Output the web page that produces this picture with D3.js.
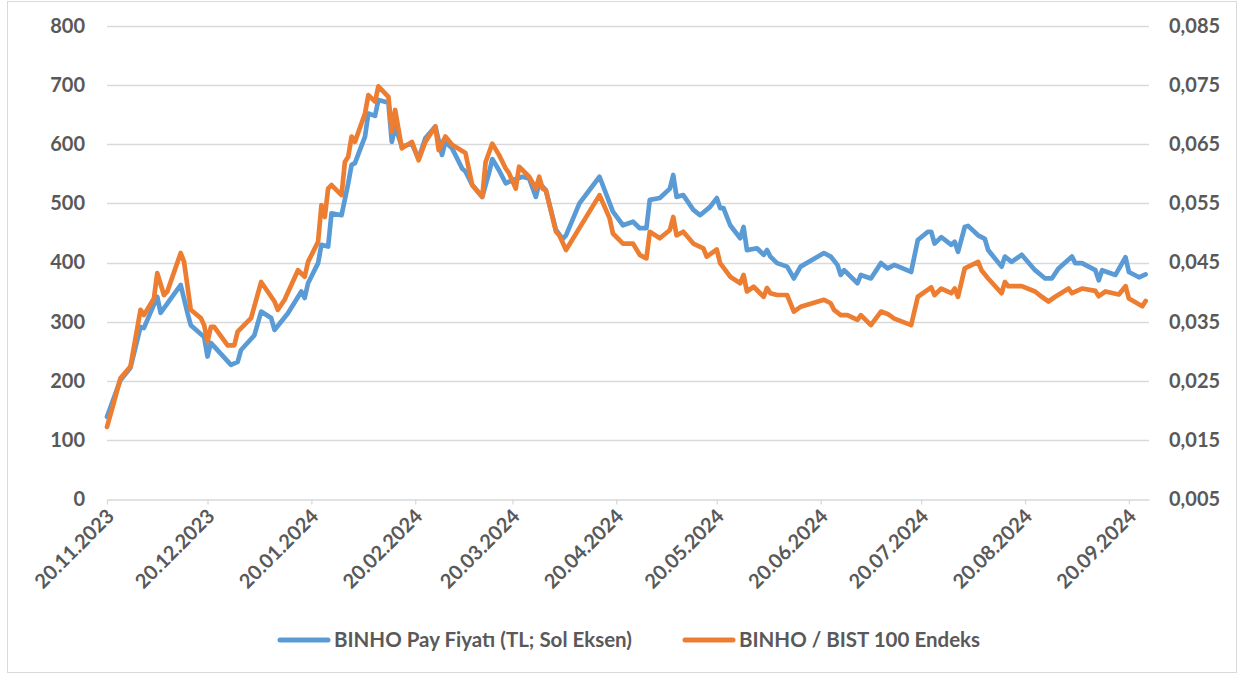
<!DOCTYPE html>
<html>
<head>
<meta charset="utf-8">
<script src="https://cdn.jsdelivr.net/npm/d3@7"></script>
<style>
  body { margin: 0; background: #fff; }
  svg { display: block; font-family: Lato, "Noto Sans", sans-serif; font-weight: 700; }
</style>
</head>
<body>
<svg id="chart" width="1240" height="675"></svg>
<script>
// ------------------------------------------------------------
// Data
// ------------------------------------------------------------
const priceSeries = [
  ["2023-11-20", 139], ["2023-11-24", 201], ["2023-11-27", 222], ["2023-11-30", 291],
  ["2023-12-01", 289], ["2023-12-05", 342], ["2023-12-06", 315], ["2023-12-12", 362],
  ["2023-12-14", 315], ["2023-12-15", 294], ["2023-12-19", 274], ["2023-12-20", 241],
  ["2023-12-21", 264], ["2023-12-27", 227], ["2023-12-29", 232], ["2023-12-30", 252],
  ["2024-01-03", 277], ["2024-01-05", 317], ["2024-01-08", 306], ["2024-01-09", 286],
  ["2024-01-13", 314], ["2024-01-17", 351], ["2024-01-18", 340], ["2024-01-19", 365],
  ["2024-01-22", 399], ["2024-01-23", 430], ["2024-01-25", 427], ["2024-01-26", 483],
  ["2024-01-29", 480], ["2024-01-31", 534], ["2024-02-01", 565], ["2024-02-02", 568],
  ["2024-02-05", 613], ["2024-02-06", 652], ["2024-02-08", 648], ["2024-02-09", 675],
  ["2024-02-11", 672], ["2024-02-12", 670], ["2024-02-13", 604], ["2024-02-14", 630],
  ["2024-02-16", 596], ["2024-02-19", 601], ["2024-02-21", 576], ["2024-02-23", 610],
  ["2024-02-26", 630], ["2024-02-28", 582], ["2024-02-29", 604], ["2024-03-02", 593],
  ["2024-03-05", 559], ["2024-03-06", 554], ["2024-03-08", 531], ["2024-03-11", 511],
  ["2024-03-13", 551], ["2024-03-14", 575], ["2024-03-16", 556], ["2024-03-18", 534],
  ["2024-03-20", 539], ["2024-03-23", 545], ["2024-03-25", 542], ["2024-03-27", 511],
  ["2024-03-28", 535], ["2024-03-30", 522], ["2024-04-02", 455], ["2024-04-04", 440],
  ["2024-04-05", 446], ["2024-04-09", 500], ["2024-04-15", 545], ["2024-04-19", 486],
  ["2024-04-22", 463], ["2024-04-25", 469], ["2024-04-27", 458], ["2024-04-29", 458],
  ["2024-04-30", 506], ["2024-05-03", 509], ["2024-05-06", 525], ["2024-05-07", 548],
  ["2024-05-08", 511], ["2024-05-10", 514], ["2024-05-13", 489], ["2024-05-15", 480],
  ["2024-05-18", 494], ["2024-05-20", 509], ["2024-05-21", 492], ["2024-05-22", 492],
  ["2024-05-24", 463], ["2024-05-27", 441], ["2024-05-28", 460], ["2024-05-29", 421],
  ["2024-06-01", 424], ["2024-06-03", 413], ["2024-06-04", 421], ["2024-06-05", 410],
  ["2024-06-07", 399], ["2024-06-10", 393], ["2024-06-12", 373], ["2024-06-14", 393],
  ["2024-06-21", 416], ["2024-06-23", 410], ["2024-06-25", 396], ["2024-06-26", 379],
  ["2024-06-27", 387], ["2024-07-01", 365], ["2024-07-02", 379], ["2024-07-05", 373],
  ["2024-07-08", 399], ["2024-07-10", 390], ["2024-07-12", 396], ["2024-07-17", 384],
  ["2024-07-19", 438], ["2024-07-22", 452], ["2024-07-23", 452], ["2024-07-24", 432],
  ["2024-07-26", 443], ["2024-07-29", 430], ["2024-07-30", 435], ["2024-07-31", 418],
  ["2024-08-02", 460], ["2024-08-03", 462], ["2024-08-06", 446], ["2024-08-07", 443],
  ["2024-08-08", 440], ["2024-08-09", 421], ["2024-08-13", 393], ["2024-08-14", 410],
  ["2024-08-16", 401], ["2024-08-19", 413], ["2024-08-23", 387], ["2024-08-26", 373],
  ["2024-08-28", 373], ["2024-08-30", 390], ["2024-09-03", 410], ["2024-09-04", 399],
  ["2024-09-06", 399], ["2024-09-10", 387], ["2024-09-11", 370], ["2024-09-12", 387],
  ["2024-09-16", 379], ["2024-09-19", 409], ["2024-09-20", 384], ["2024-09-23", 375],
  ["2024-09-25", 380]
];

const ratioSeries = [
  ["2023-11-20", 0.0172], ["2023-11-22", 0.0212], ["2023-11-24", 0.0254], ["2023-11-27", 0.0274],
  ["2023-11-30", 0.0370], ["2023-12-01", 0.0361], ["2023-12-04", 0.0389], ["2023-12-05", 0.0432],
  ["2023-12-07", 0.0395], ["2023-12-08", 0.0401], ["2023-12-12", 0.0466], ["2023-12-13", 0.0451],
  ["2023-12-15", 0.0370], ["2023-12-18", 0.0356], ["2023-12-19", 0.0344], ["2023-12-20", 0.0316],
  ["2023-12-21", 0.0341], ["2023-12-22", 0.0341], ["2023-12-26", 0.0310], ["2023-12-28", 0.0310],
  ["2023-12-29", 0.0333], ["2024-01-02", 0.0356], ["2024-01-05", 0.0417], ["2024-01-09", 0.0384],
  ["2024-01-10", 0.0370], ["2024-01-12", 0.0387], ["2024-01-16", 0.0437], ["2024-01-18", 0.0426],
  ["2024-01-19", 0.0451], ["2024-01-22", 0.0485], ["2024-01-23", 0.0547], ["2024-01-24", 0.0527],
  ["2024-01-25", 0.0575], ["2024-01-26", 0.0581], ["2024-01-29", 0.0564], ["2024-01-30", 0.0620],
  ["2024-01-31", 0.0629], ["2024-02-01", 0.0663], ["2024-02-02", 0.0654], ["2024-02-05", 0.0702],
  ["2024-02-06", 0.0733], ["2024-02-08", 0.0722], ["2024-02-09", 0.0748], ["2024-02-12", 0.0730],
  ["2024-02-13", 0.0671], ["2024-02-14", 0.0708], ["2024-02-16", 0.0643], ["2024-02-19", 0.0654],
  ["2024-02-21", 0.0623], ["2024-02-23", 0.0654], ["2024-02-26", 0.0680], ["2024-02-27", 0.0640],
  ["2024-02-29", 0.0663], ["2024-03-02", 0.0649], ["2024-03-06", 0.0635], ["2024-03-08", 0.0581],
  ["2024-03-11", 0.0561], ["2024-03-12", 0.0620], ["2024-03-14", 0.0651], ["2024-03-16", 0.0632],
  ["2024-03-18", 0.0609], ["2024-03-19", 0.0601], ["2024-03-21", 0.0575], ["2024-03-22", 0.0612],
  ["2024-03-25", 0.0595], ["2024-03-27", 0.0575], ["2024-03-28", 0.0595], ["2024-03-29", 0.0575],
  ["2024-03-30", 0.0572], ["2024-04-02", 0.0502], ["2024-04-03", 0.0496], ["2024-04-05", 0.0471],
  ["2024-04-15", 0.0564], ["2024-04-18", 0.0525], ["2024-04-19", 0.0499], ["2024-04-22", 0.0482],
  ["2024-04-25", 0.0482], ["2024-04-27", 0.0463], ["2024-04-29", 0.0457], ["2024-04-30", 0.0502],
  ["2024-05-03", 0.0491], ["2024-05-06", 0.0505], ["2024-05-07", 0.0527], ["2024-05-08", 0.0496],
  ["2024-05-10", 0.0502], ["2024-05-13", 0.0482], ["2024-05-16", 0.0474], ["2024-05-17", 0.0460],
  ["2024-05-20", 0.0472], ["2024-05-21", 0.0449], ["2024-05-24", 0.0426], ["2024-05-27", 0.0415],
  ["2024-05-28", 0.0429], ["2024-05-29", 0.0401], ["2024-05-31", 0.0409], ["2024-06-03", 0.0392],
  ["2024-06-04", 0.0407], ["2024-06-05", 0.0398], ["2024-06-07", 0.0395], ["2024-06-10", 0.0395],
  ["2024-06-12", 0.0367], ["2024-06-14", 0.0375], ["2024-06-21", 0.0387], ["2024-06-23", 0.0381],
  ["2024-06-24", 0.0370], ["2024-06-26", 0.0361], ["2024-06-28", 0.0361], ["2024-07-01", 0.0353],
  ["2024-07-02", 0.0361], ["2024-07-05", 0.0344], ["2024-07-08", 0.0367], ["2024-07-10", 0.0363],
  ["2024-07-12", 0.0355], ["2024-07-17", 0.0344], ["2024-07-19", 0.0392], ["2024-07-23", 0.0408],
  ["2024-07-24", 0.0395], ["2024-07-26", 0.0406], ["2024-07-29", 0.0398], ["2024-07-30", 0.0406],
  ["2024-07-31", 0.0392], ["2024-08-02", 0.0440], ["2024-08-06", 0.0451], ["2024-08-07", 0.0437],
  ["2024-08-09", 0.0423], ["2024-08-13", 0.0398], ["2024-08-14", 0.0417], ["2024-08-15", 0.0410],
  ["2024-08-19", 0.0410], ["2024-08-23", 0.0401], ["2024-08-25", 0.0392], ["2024-08-27", 0.0384],
  ["2024-08-29", 0.0392], ["2024-09-02", 0.0406], ["2024-09-03", 0.0398], ["2024-09-06", 0.0406],
  ["2024-09-10", 0.0402], ["2024-09-11", 0.0393], ["2024-09-13", 0.0401], ["2024-09-17", 0.0396],
  ["2024-09-19", 0.0410], ["2024-09-20", 0.0389], ["2024-09-24", 0.0376], ["2024-09-25", 0.0385]
];

const leftTicks = [0, 100, 200, 300, 400, 500, 600, 700, 800];
const rightTicks = [0.005, 0.015, 0.025, 0.035, 0.045, 0.055, 0.065, 0.075, 0.085];
const dateTicks = ["2023-11-20", "2023-12-20", "2024-01-20", "2024-02-20", "2024-03-20",
  "2024-04-20", "2024-05-20", "2024-06-20", "2024-07-20", "2024-08-20", "2024-09-20"];
const dateDomain = ["2023-11-20", "2024-09-26"];
const seriesNames = ["BINHO Pay Fiyatı (TL; Sol Eksen)", "BINHO / BIST 100 Endeks"];

// ------------------------------------------------------------
// Setup
// ------------------------------------------------------------
const parseDate = d3.timeParse("%Y-%m-%d");
const fmtDate = d3.timeFormat("%d.%m.%Y");
const fmtRight = d => d3.format(".3f")(d).replace(".", ",");

const colors = { price: "#5B9BD5", ratio: "#ED7D31", grid: "#D9D9D9", text: "#595959" };
const plot = { left: 107, right: 1149, top: 26, bottom: 499 };

const svg = d3.select("#chart");

// Chart border
svg.append("rect")
  .attr("x", 7.5).attr("y", 1.5)
  .attr("width", 1229).attr("height", 671)
  .attr("fill", "#fff")
  .attr("stroke", colors.grid);

const x = d3.scaleTime()
  .domain(dateDomain.map(parseDate))
  .range([plot.left, plot.right]);

const yLeft = d3.scaleLinear().domain([0, 800]).range([plot.bottom, plot.top]);
const yRight = d3.scaleLinear().domain([0.005, 0.085]).range([plot.bottom, plot.top]);

// Gridlines
svg.append("g")
  .selectAll("line")
  .data(leftTicks.filter(d => d > 0))
  .join("line")
  .attr("x1", plot.left).attr("x2", plot.right)
  .attr("y1", d => Math.round(yLeft(d)) + 0.5)
  .attr("y2", d => Math.round(yLeft(d)) + 0.5)
  .attr("stroke", colors.grid)
  .attr("stroke-width", 1.3);

// Left axis labels
const leftAxis = svg.append("g")
  .attr("transform", `translate(${plot.left},0)`)
  .call(d3.axisLeft(yLeft).tickValues(leftTicks).tickSize(0).tickPadding(22));
leftAxis.select(".domain").remove();

// Right axis labels
const rightAxis = svg.append("g")
  .attr("transform", `translate(${plot.right},0)`)
  .call(d3.axisRight(yRight).tickValues(rightTicks).tickSize(0).tickPadding(20).tickFormat(fmtRight));
rightAxis.select(".domain").remove();

// Bottom axis
const xAxis = svg.append("g")
  .attr("transform", `translate(0,${Math.round(plot.bottom) + 0.5})`)
  .call(d3.axisBottom(x).tickValues(dateTicks.map(parseDate)).tickSize(5).tickSizeOuter(0).tickFormat(fmtDate));
xAxis.select(".domain").attr("stroke", colors.grid).attr("stroke-width", 1.3);
xAxis.selectAll(".tick line").attr("stroke", colors.grid).attr("stroke-width", 1.3);
xAxis.selectAll(".tick text")
  .attr("text-anchor", "end")
  .attr("transform", "translate(3,13) rotate(-45)")
  .attr("dy", "0.35em")
  .attr("y", 0).attr("x", 0);

svg.selectAll(".tick text")
  .attr("fill", colors.text)
  .attr("font-size", 20)
  .attr("font-family", "Lato, 'Noto Sans', sans-serif")
  .attr("font-weight", 700);

// Lines
const priceLine = d3.line()
  .x(d => x(parseDate(d[0])))
  .y(d => yLeft(d[1]));

const ratioLine = d3.line()
  .x(d => x(parseDate(d[0])))
  .y(d => yRight(d[1]));

svg.append("path")
  .datum(priceSeries)
  .attr("fill", "none")
  .attr("stroke", colors.price)
  .attr("stroke-width", 4.7)
  .attr("stroke-linejoin", "round")
  .attr("stroke-linecap", "round")
  .attr("d", priceLine);

svg.append("path")
  .datum(ratioSeries)
  .attr("fill", "none")
  .attr("stroke", colors.ratio)
  .attr("stroke-width", 4.7)
  .attr("stroke-linejoin", "round")
  .attr("stroke-linecap", "round")
  .attr("d", ratioLine);

// Legend
const legendItems = [
  { name: seriesNames[0], color: colors.price, x: 278 },
  { name: seriesNames[1], color: colors.ratio, x: 683 }
];

const legend = svg.append("g").attr("transform", "translate(0,640)");
legendItems.forEach(item => {
  legend.append("line")
    .attr("x1", item.x + 2).attr("x2", item.x + 50)
    .attr("y1", 0).attr("y2", 0)
    .attr("stroke", item.color)
    .attr("stroke-width", 5)
    .attr("stroke-linecap", "round");
  legend.append("text")
    .attr("x", item.x + 56)
    .attr("y", 0)
    .attr("dy", "0.35em")
    .attr("fill", colors.text)
    .attr("font-size", 20.5)
    .text(item.name);
});
</script>
</body>
</html>
